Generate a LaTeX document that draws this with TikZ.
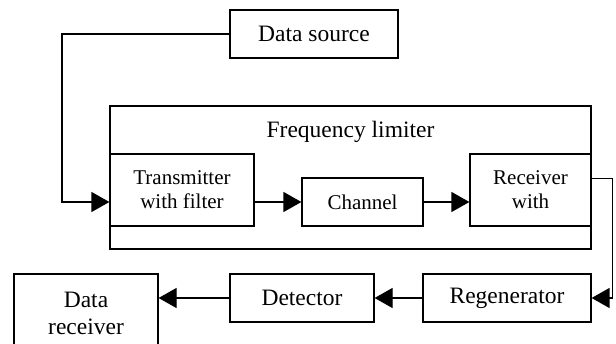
\documentclass[tikz,border=0pt]{standalone}
\usepackage{fontspec}
\setmainfont{Liberation Serif}
\usetikzlibrary{arrows.meta}
\begin{document}
\begin{tikzpicture}[x=1pt,y=-1pt,
 box/.style={draw,line width=1.2pt,inner sep=0pt,font=\fontsize{23.5}{27}\selectfont,align=center},
 inbox/.style={box,font=\fontsize{21}{24}\selectfont},
 conn/.style={line width=1.2pt,-{Triangle[length=18pt,width=20pt]}}]
\clip (0,0) rectangle (616,344);
\node[box,minimum width=168pt,minimum height=48pt] (src) at (314,34) {Data source};
\node[draw,line width=1.2pt,minimum width=481pt,minimum height=143pt,inner sep=0pt] (lim) at (350.5,177.5) {};
\node[font=\fontsize{23.5}{27}\selectfont,anchor=base,inner sep=0pt] (limt) at (350.5,138) {Frequency limiter};
\node[inbox,minimum width=144pt,minimum height=72pt] (tx) at (182,190) {Transmitter\\with filter};
\node[inbox,minimum width=121pt,minimum height=48pt] (ch) at (362.5,202) {Channel};
\node[inbox,minimum width=121pt,minimum height=72pt] (rx) at (530.5,190) {Receiver\\with};
\node[box,minimum width=168pt,minimum height=48pt] (reg) at (507,298) {Regenerator};
\node[box,minimum width=144pt,minimum height=48pt] (det) at (302,298) {Detector};
\node[box,minimum width=144pt,minimum height=78pt] (drx) at (86,313) {Data\\receiver};
\coordinate (k1) at (62,34);
\coordinate (k2) at (612.5,178.5);
\draw[conn] (src.west) -- (k1) |- (tx.west |- ch.west);
\draw[conn] (tx.east |- ch.west) -- (ch.west);
\draw[conn] (ch.east) -- (rx.west |- ch.east);
\draw[line width=1.4pt] (rx.east |- k2) -- (k2);
\draw[conn,line width=1.4pt] (k2) |- (reg.east);
\draw[conn] (reg.west) -- (det.east);
\draw[conn] (det.west) -- (drx.east |- det.west);
\end{tikzpicture}
\end{document}
